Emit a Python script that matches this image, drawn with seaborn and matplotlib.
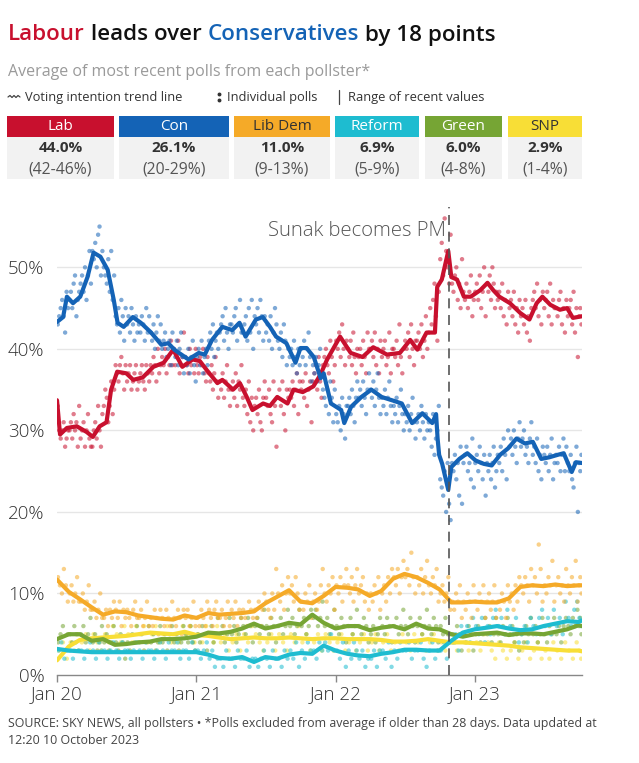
import numpy as np
import pandas as pd
import matplotlib
matplotlib.use("Agg")
import matplotlib.pyplot as plt
from matplotlib.lines import Line2D
from matplotlib.patches import Rectangle
import seaborn as sns

# ---------------- data ----------------
parties = ["Lab", "Con", "Lib Dem", "Reform", "Green", "SNP"]
latest = ["44.0%", "26.1%", "11.0%", "6.9%", "6.0%", "2.9%"]
ranges = ["(42-46%)", "(20-29%)", "(9-13%)", "(5-9%)", "(4-8%)", "(1-4%)"]

lab_dates = ["2020-01-01", "2020-01-09", "2020-01-27", "2020-02-22", "2020-03-19", "2020-04-04",
             "2020-04-22", "2020-05-10", "2020-05-22", "2020-06-07", "2020-07-01", "2020-07-19",
             "2020-08-13", "2020-09-10", "2020-10-07", "2020-11-01", "2020-11-25", "2020-12-22",
             "2021-01-10", "2021-01-28", "2021-02-25", "2021-03-10", "2021-04-07", "2021-04-25",
             "2021-05-13", "2021-05-28", "2021-06-25", "2021-07-13", "2021-08-01", "2021-08-28",
             "2021-09-13", "2021-10-07", "2021-11-04", "2021-11-22", "2021-12-10", "2022-01-13",
             "2022-02-10", "2022-03-13", "2022-04-10", "2022-05-16", "2022-06-19", "2022-07-16",
             "2022-08-04", "2022-08-28", "2022-09-19", "2022-09-25", "2022-10-07", "2022-10-24",
             "2022-11-01", "2022-11-16", "2022-12-04", "2022-12-22", "2023-01-16", "2023-02-04",
             "2023-02-19", "2023-03-07", "2023-04-04", "2023-05-01", "2023-05-25", "2023-06-13",
             "2023-06-28", "2023-07-19", "2023-08-13", "2023-09-01", "2023-09-16", "2023-10-10"]
lab_trend = [33.7, 29.5, 30.3, 30.5, 29.8, 29.2, 30.5, 31.0, 35.0, 37.2, 37.0, 36.2,
             36.5, 37.8, 38.3, 39.9, 37.8, 38.7, 38.5, 37.4, 35.8, 36.2, 35.0, 35.8,
             34.1, 32.5, 33.3, 33.0, 34.1, 33.3, 35.0, 34.7, 35.4, 36.8, 38.7, 41.5,
             39.5, 39.0, 40.2, 39.3, 39.5, 41.1, 39.9, 42.0, 42.0, 47.6, 48.5, 52.0,
             48.8, 48.5, 46.4, 46.4, 47.2, 48.1, 47.2, 46.4, 45.6, 44.4, 43.6, 45.6,
             46.4, 45.4, 44.8, 45.0, 43.8, 44.0]

con_dates = ["2020-01-01", "2020-01-17", "2020-01-27", "2020-02-12", "2020-03-02", "2020-03-21",
             "2020-04-06", "2020-04-24", "2020-05-13", "2020-05-29", "2020-06-08", "2020-06-24",
             "2020-07-18", "2020-08-08", "2020-09-04", "2020-10-01", "2020-10-19", "2020-11-04",
             "2020-12-11", "2021-01-07", "2021-01-23", "2021-02-11", "2021-03-10", "2021-04-05",
             "2021-04-24", "2021-05-10", "2021-06-06", "2021-06-24", "2021-07-13", "2021-07-29",
             "2021-08-25", "2021-09-18", "2021-10-01", "2021-10-17", "2021-11-05", "2021-11-23",
             "2021-12-01", "2021-12-20", "2022-01-16", "2022-01-24", "2022-02-11", "2022-03-10",
             "2022-04-05", "2022-05-02", "2022-05-29", "2022-06-24", "2022-07-21", "2022-08-17",
             "2022-09-12", "2022-09-22", "2022-09-26", "2022-09-30", "2022-10-08", "2022-10-24",
             "2022-11-01", "2022-11-22", "2022-12-13", "2023-01-04", "2023-01-25", "2023-02-15",
             "2023-03-09", "2023-03-30", "2023-04-21", "2023-05-13", "2023-06-03", "2023-06-25",
             "2023-07-16", "2023-08-07", "2023-08-23", "2023-09-13", "2023-09-24", "2023-10-10"]
con_trend = [43.3, 43.9, 46.4, 45.6, 46.4, 48.8, 51.8, 51.3, 49.7, 46.0, 43.2, 42.7,
             43.9, 43.2, 42.0, 40.5, 40.7, 39.9, 38.7, 39.5, 39.3, 41.1, 42.7, 42.3,
             43.2, 41.5, 43.6, 43.9, 42.7, 41.5, 40.7, 38.3, 40.1, 40.1, 39.0, 36.4,
             37.0, 33.3, 32.5, 30.9, 32.9, 34.1, 35.0, 34.1, 33.7, 33.3, 30.9, 32.1,
             30.9, 32.0, 29.0, 27.0, 25.9, 22.7, 25.5, 26.5, 27.2, 26.3, 25.9, 25.7,
             27.0, 27.8, 29.0, 28.4, 28.6, 26.5, 26.7, 27.0, 27.2, 24.9, 26.1, 26.0]

# small parties: monthly readings (1st of month, Jan 2020 - Oct 2023) + last update
small_dates = [d.strftime("%Y-%m-%d") for d in pd.date_range("2020-01-01", "2023-10-01", freq="MS")] + ["2023-10-10"]
ld_trend = [11.7, 10.2, 9.3, 8.3, 7.4, 7.8, 7.7, 7.3, 7.1, 6.9,
            6.8, 7.3, 7.0, 7.6, 7.4, 7.5, 7.6, 7.8, 8.8, 9.6,
            10.4, 9.0, 8.8, 9.7, 10.8, 10.7, 10.5, 9.7, 10.3, 11.8,
            12.4, 12.0, 11.3, 10.5, 8.9, 8.9, 9.0, 8.9, 8.9, 9.4,
            10.8, 11.0, 10.9, 11.1, 10.9, 11.0, 11.0]
ref_trend = [3.2, 3.0, 2.9, 2.8, 2.8, 2.8, 2.8, 2.8, 2.8, 2.8,
             2.8, 2.8, 2.8, 2.5, 2.1, 2.0, 2.2, 1.6, 2.2, 2.0,
             2.5, 2.7, 2.6, 3.6, 3.0, 2.6, 2.4, 2.3, 2.6, 2.8,
             3.1, 3.1, 3.0, 3.0, 4.2, 5.2, 5.6, 5.8, 6.0, 5.7,
             5.5, 5.6, 6.0, 6.3, 6.6, 6.5, 6.7]
grn_trend = [4.4, 5.0, 5.0, 4.2, 4.4, 3.7, 3.8, 4.0, 4.1, 4.4,
             4.4, 4.5, 4.7, 5.2, 5.1, 5.3, 5.7, 6.3, 5.7, 6.0,
             6.4, 6.2, 7.4, 6.4, 5.7, 6.0, 6.0, 5.5, 5.8, 6.0,
             5.6, 6.3, 5.7, 5.6, 5.0, 4.7, 5.0, 5.1, 5.2, 4.9,
             5.1, 5.1, 5.0, 5.3, 5.6, 6.1, 6.0]
snp_trend = [1.8, 3.5, 4.3, 4.5, 4.6, 4.7, 4.8, 5.0, 5.2, 5.1,
             5.0, 5.3, 4.9, 4.8, 4.6, 4.4, 4.5, 4.6, 4.5, 4.5,
             4.6, 4.5, 4.4, 4.5, 4.5, 4.4, 4.4, 4.4, 4.3, 4.1,
             4.1, 4.2, 4.4, 4.2, 4.0, 4.0, 3.9, 3.8, 3.7, 3.6,
             3.4, 3.3, 3.2, 3.1, 3.0, 3.0, 2.9]

# individual polls, one string per month starting Jan 2020
lab_polls = ["33 30 29 30 31 28 29 30", "30 31 29 32 30 31 28 33", "29 30 31 28 30 32 29 28",
             "28 30 31 29 33 30 28 32", "33 35 34 31 33 36 32 35", "38 37 36 38 39 37 35 38",
             "36 37 38 35 36 37 38 35", "36 37 38 36 35 38 37 36", "38 37 39 38 36 40 37 38",
             "39 38 40 37 39 38 41 38", "40 38 39 41 37 38 39 42", "39 38 37 40 38 39 37 40",
             "38 37 39 38 40 37 36 39", "37 36 38 35 37 39 36 34", "36 35 37 34 36 38 35 33",
             "35 36 34 37 33 36 35 38", "34 33 35 32 36 31 34 30", "33 34 32 35 31 30 34 36",
             "34 33 35 32 31 36 33 28", "34 35 33 36 32 30 35 34", "35 34 36 33 35 37 32 36",
             "35 36 34 37 33 35 36 31", "36 37 38 35 39 36 34 38", "39 40 38 37 41 39 36 38",
             "41 40 42 39 43 40 38 41", "40 39 41 38 42 39 37 40", "39 40 38 41 39 37 42 40",
             "40 41 39 42 38 40 37 41", "39 40 41 38 39 42 37 40", "40 39 41 38 43 39 37 40",
             "41 40 42 39 43 40 38 41", "41 42 40 43 39 41 44 40", "42 45 43 46 48 44 41 47",
             "51 53 49 56 52 50 48 54", "48 47 49 50 46 48 45 51", "47 46 48 45 47 49 44 46",
             "47 48 46 49 45 47 50 44", "48 47 49 46 50 48 45 47", "46 47 45 48 44 46 43 47",
             "45 46 44 47 43 45 42 46", "44 45 43 46 42 44 41 45", "46 47 45 48 44 46 43 47",
             "45 46 47 44 48 43 46 45", "45 44 46 47 43 45 42 46", "44 45 46 43 47 42 45 39",
             "44 45 43"]
con_polls = ["43 44 45 46 44 42 47 45", "46 47 45 48 49 44 46 47", "48 49 47 50 46 49 52 48",
             "52 51 53 50 54 55 49 52", "50 49 48 51 47 52 46 49", "44 43 45 42 46 44 41 45",
             "43 44 42 45 43 41 44 42", "43 42 44 43 41 45 42 44", "42 41 43 40 42 44 41 43",
             "40 41 42 39 40 41 38 42", "40 39 41 38 40 42 39 37", "39 38 40 37 39 41 38 36",
             "39 40 38 41 37 39 40 38", "41 42 40 43 39 41 42 40", "42 43 44 41 45 42 40 43",
             "43 42 44 45 41 43 46 42", "42 43 44 41 45 42 46 40", "44 43 45 42 46 44 41 44",
             "42 43 41 44 40 42 45 43", "41 40 42 39 43 41 38 40", "39 40 38 41 39 37 40 38",
             "40 39 41 38 40 42 39 36", "38 37 39 36 38 40 37 35", "34 33 35 32 36 34 31 35",
             "32 31 33 30 34 32 29 33", "33 34 32 35 33 31 34 36", "34 35 33 36 34 32 35 37",
             "35 34 36 33 35 37 34 32", "34 33 35 32 34 36 33 31", "33 32 34 31 33 35 32 30",
             "32 31 33 30 32 34 31 29", "31 32 30 33 31 29 32 30", "31 30 28 32 27 29 30 33",
             "24 23 22 25 20 26 21 19", "26 25 27 24 26 22 28 21", "26 27 28 25 26 24 29 23",
             "26 27 25 28 26 24 27 22", "26 25 27 24 26 28 23 25", "27 26 28 25 29 27 24 30",
             "28 29 27 30 28 26 29 31", "28 29 30 27 28 26 29 31", "27 28 26 29 25 27 24 28",
             "27 26 28 25 27 29 24 26", "27 26 28 25 27 29 25 28", "26 25 27 24 23 26 28 20",
             "26 25 27"]
ld_polls = ["12 11 10 13 11 9", "10 11 9 10 12 9", "9 10 8 9 11 8", "8 9 7 8 10 7", "7 8 6 8 7 9",
            "8 7 9 6 8 7", "8 7 6 8 9 7", "7 8 6 7 9 6", "7 6 8 7 5 8", "7 6 8 7 6 9",
            "7 6 8 7 5 8", "7 8 6 7 9 6", "7 6 8 7 6 9", "8 7 6 8 9 7", "7 8 6 7 9 6",
            "8 7 9 6 8 7", "8 7 6 9 8 7", "8 7 9 6 8 10", "9 8 7 10 8 13", "10 9 11 8 10 12",
            "10 11 9 12 10 8", "9 8 10 9 11 7", "9 10 8 9 11 13", "10 9 11 10 12 8", "11 10 12 9 11 13",
            "11 10 12 9 11 13", "10 11 12 9 10 8", "10 9 11 10 12 8", "10 11 9 12 10 13", "12 11 13 10 12 14",
            "12 13 11 15 12 10", "12 11 13 10 12 14", "11 10 12 11 13 9", "10 11 9 10 12 8", "9 8 10 9 11 7",
            "9 8 10 9 7 11", "9 8 10 9 11 7", "9 10 8 9 11 7", "9 8 10 9 7 11", "9 10 8 11 9 12",
            "11 10 12 11 9 13", "11 12 10 16 13 9", "11 10 12 11 14 9", "11 12 10 11 9 13", "11 10 12 11 14 9",
            "11 12 10"]
grn_polls = ["4 5 6 3 5", "5 4 6 5 3", "5 6 4 5 7", "4 5 3 4 6", "4 5 3 4 6", "4 3 5 4 2",
             "4 3 5 4 6", "4 5 3 4 6", "4 5 3 4 6", "4 5 3 5 6", "4 5 3 4 6", "5 4 6 4 3",
             "5 4 6 5 3", "5 6 4 5 7", "5 6 4 5 7", "5 6 4 5 7", "6 5 7 6 4", "6 7 5 6 8",
             "6 5 7 6 4", "6 7 5 6 8", "6 7 5 6 8", "6 7 5 6 8", "7 8 6 7 9", "6 7 5 6 8",
             "6 5 7 6 4", "6 7 5 6 8", "6 5 7 6 4", "5 6 4 5 7", "6 5 7 6 4", "6 7 5 6 8",
             "6 5 7 6 4", "6 7 5 6 8", "6 5 7 6 4", "6 5 7 5 4", "5 4 6 5 3", "5 4 6 5 3",
             "5 6 4 5 7", "5 6 4 5 7", "5 4 6 5 7", "5 6 4 5 3", "5 4 6 5 7", "5 6 4 5 7",
             "5 4 6 5 7", "5 6 4 6 7", "6 5 7 6 8", "6 7 5"]
ref_polls = ["3 4 2 3", "3 2 4 3", "3 2 3 4", "3 2 4 3", "3 2 3 4", "3 2 4 3", "3 2 3 4",
             "3 2 4 3", "3 2 3 4", "3 2 4 3", "3 4 2 3", "3 2 4 3", "3 2 3 4", "2 3 1 2",
             "2 1 3 2", "2 1 3 2", "2 3 1 2", "2 1 2 3", "2 1 3 2", "2 1 3 2", "3 2 4 1",
             "3 2 4 3", "3 2 4 3", "4 3 5 3", "3 2 4 1", "3 2 4 3", "2 3 1 2", "2 3 1 3",
             "3 2 4 1", "3 2 4 3", "3 4 2 3", "3 4 2 1", "3 4 2 3", "3 4 2 5", "4 5 3 6",
             "5 6 4 7", "6 5 7 4", "6 5 7 8", "6 7 5 8", "6 5 7 4", "5 6 4 7", "6 5 7 8",
             "6 7 5 8", "6 7 5 9", "7 6 8 9", "7 6"]
snp_polls = ["3 4 2", "4 3 5", "4 5 3", "5 4 3", "5 4 6", "5 4 6", "5 4 6", "5 6 4", "5 6 4",
             "5 6 4", "5 4 6", "5 6 4", "5 4 6", "5 4 6", "4 5 3", "4 5 3", "5 4 6", "5 4 3",
             "4 5 3", "5 4 3", "5 4 6", "4 5 3", "4 5 3", "5 4 3", "4 5 3", "4 5 3", "4 5 3",
             "4 5 3", "4 5 3", "4 3 5", "4 3 5", "4 5 3", "4 5 3", "4 3 5", "4 3 5", "4 3 5",
             "4 3 5", "4 3 2", "4 3 2", "3 4 2", "3 4 2", "3 4 2", "3 2 4", "3 2 4", "3 2 4",
             "3 2"]

sunak_date = "2022-10-25"
end_date = "2023-10-10"

# ---------------- styling ----------------
col = {"Lab": "#c8102e", "Con": "#1463b6", "Lib Dem": "#f5aa28", "Reform": "#1ebcd0",
       "Green": "#76a534", "SNP": "#f8de36"}
head_text = {"Lab": "white", "Con": "white", "Lib Dem": "#333333", "Reform": "white",
             "Green": "white", "SNP": "#333333"}

sns.set_theme(style="white")
FONT = ["Open Sans", "DejaVu Sans"]
plt.rcParams["font.family"] = FONT

W, H = 639, 763
fig = plt.figure(figsize=(W / 100, H / 100), dpi=100)
fig.patch.set_facecolor("white")


def fx(x):
    return x / W


def fy(y):
    return 1 - y / H


# ----- build frames -----
def trend_frame(dates, vals, name):
    return pd.DataFrame({"date": pd.to_datetime(dates), "value": vals, "party": name})


def poll_frame(month_strings, name):
    rows = []
    for m, s in enumerate(month_strings):
        vals = [float(v) for v in s.split()]
        start = pd.Timestamp("2020-01-01") + pd.DateOffset(months=m)
        end = min(start + pd.DateOffset(months=1), pd.Timestamp(end_date))
        span = (end - start).days
        for i, v in enumerate(vals):
            d = start + pd.Timedelta(days=span * (i + 0.5) / len(vals))
            rows.append((d, v, name))
    return pd.DataFrame(rows, columns=["date", "value", "party"])


polls = pd.concat([
    poll_frame(snp_polls, "SNP"), poll_frame(grn_polls, "Green"), poll_frame(ref_polls, "Reform"),
    poll_frame(ld_polls, "Lib Dem"), poll_frame(lab_polls, "Lab"), poll_frame(con_polls, "Con"),
], ignore_index=True)

trends = [
    trend_frame(small_dates, snp_trend, "SNP"),
    trend_frame(small_dates, grn_trend, "Green"),
    trend_frame(small_dates, ld_trend, "Lib Dem"),
    trend_frame(small_dates, ref_trend, "Reform"),
    trend_frame(lab_dates, lab_trend, "Lab"),
    trend_frame(con_dates, con_trend, "Con"),
]

# ----- chart axes -----
ax = fig.add_axes([fx(57), 1 - 675 / H, (582 - 57) / W, (675 - 207) / H])
ax.set_facecolor("white")

sns.scatterplot(data=polls, x="date", y="value", hue="party", palette=col, s=10, alpha=0.55,
                linewidth=0, legend=False, ax=ax, zorder=2)
for i, tf in enumerate(trends):
    p = tf["party"].iloc[0]
    sns.lineplot(data=tf, x="date", y="value", color=col[p], lw=3.0, ax=ax,
                 legend=False, zorder=4 + i, solid_joinstyle="round", solid_capstyle="round")

ax.set_xlim(pd.Timestamp("2020-01-01"), pd.Timestamp(end_date))
ax.set_ylim(0, 57.4)
ax.set_xlabel("")
ax.set_ylabel("")

for v in [10, 20, 30, 40, 50]:
    ax.axhline(v, color="#e6e6e6", lw=1, zorder=0)

ax.axvline(pd.Timestamp(sunak_date), color="#555555", lw=1.2, dashes=(6, 4), zorder=10)
ax.text(pd.Timestamp("2022-10-19"), 54.4, "Sunak becomes PM", ha="right", va="center",
        fontsize=14.6, fontweight="light", color="#555555", zorder=11)

ax.set_yticks([0, 10, 20, 30, 40, 50])
ax.set_yticklabels(["0%", "10%", "20%", "30%", "40%", "50%"])
xt = pd.to_datetime(["2020-01-01", "2021-01-01", "2022-01-01", "2023-01-01"])
ax.set_xticks(xt)
ax.set_xticklabels(["Jan 20", "Jan 21", "Jan 22", "Jan 23"])
ax.tick_params(axis="y", length=0, pad=9, labelsize=13.5, labelcolor="#333333")
ax.tick_params(axis="x", length=5, width=1, color="#888888", pad=2, labelsize=13.5,
               labelcolor="#333333", direction="out", bottom=True)
for lab in ax.get_xticklabels() + ax.get_yticklabels():
    lab.set_fontweight("light")
for s in ["top", "right", "left"]:
    ax.spines[s].set_visible(False)
ax.spines["bottom"].set_color("#888888")
ax.spines["bottom"].set_linewidth(1)

# ----- header -----
renderer = fig.canvas.get_renderer()
x0 = fx(8)
for txt, c in [("Labour", col["Lab"]), (" leads over ", "#111111"),
               ("Conservatives", col["Con"]), (" by 18 points", "#111111")]:
    t = fig.text(x0, fy(35), txt, color=c, fontsize=16.1, fontweight="semibold", va="center",
                 ha="left")
    bb = t.get_window_extent(renderer=renderer)
    x0 += bb.width / fig.bbox.width

fig.text(fx(8), fy(72), "Average of most recent polls from each pollster*", fontsize=11.5,
         color="#9a9a9a", va="center", ha="left")

# key row
wx = [8, 10, 12, 14, 16, 18, 20]
wy = [97, 95.5, 97.5, 95.5, 97.5, 95.5, 97]
fig.add_artist(Line2D([fx(v) for v in wx], [fy(v) for v in wy], color="#444444", lw=0.9,
                      transform=fig.transFigure))
fig.text(fx(25), fy(97), "Voting intention trend line", fontsize=9.3, color="#333333",
         va="center", ha="left")
for yy in [94, 99.5]:
    fig.add_artist(Line2D([fx(219)], [fy(yy)], marker="o", ms=1.8, color="#333333",
                          transform=fig.transFigure))
fig.text(fx(227), fy(97), "Individual polls", fontsize=9.3, color="#333333", va="center",
         ha="left")
fig.add_artist(Line2D([fx(339), fx(339)], [fy(90), fy(104)], color="#444444", lw=0.9,
                      transform=fig.transFigure))
fig.text(fx(348), fy(97), "Range of recent values", fontsize=9.3, color="#333333", va="center",
         ha="left")

# party boxes
box_x = [(7, 114), (119, 229), (234, 330), (335, 419), (425, 502), (508, 582)]
for p, (a, b), val, rng in zip(parties, box_x, latest, ranges):
    fig.add_artist(Rectangle((fx(a), fy(137)), (b - a) / W, 21 / H, transform=fig.transFigure,
                             facecolor=col[p], edgecolor="none"))
    fig.add_artist(Rectangle((fx(a), fy(179)), (b - a) / W, 42 / H, transform=fig.transFigure,
                             facecolor="#f2f2f2", edgecolor="none"))
    cx = fx((a + b) / 2)
    fig.text(cx, fy(127), p, fontsize=11, color=head_text[p], ha="center", va="center")
    fig.text(cx, fy(148), val, fontsize=11, fontweight="bold", color="#333333", ha="center",
             va="center")
    fig.text(cx, fy(170), rng, fontsize=11.3, color="#555555", ha="center", va="center")

# footer
fig.text(fx(8), fy(724), "SOURCE: SKY NEWS, all pollsters \u2022 *Polls excluded from average if "
         "older than 28 days. Data updated at", fontsize=8.9, color="#444444", va="center",
         ha="left")
fig.text(fx(8), fy(741), "12:20 10 October 2023", fontsize=8.9, color="#444444", va="center",
         ha="left")

fig.savefig("out.png", dpi=100)
